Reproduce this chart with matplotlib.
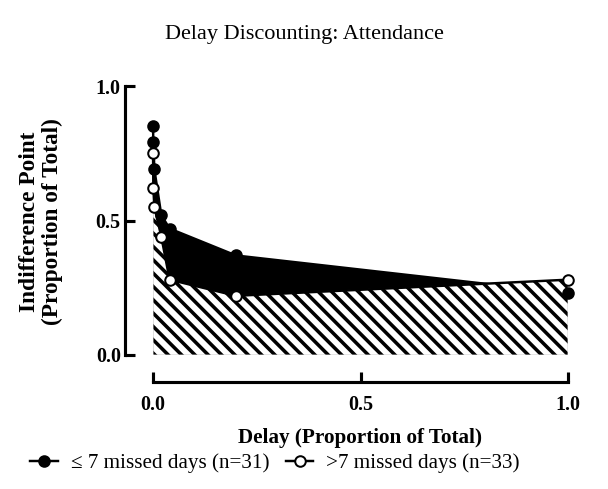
import numpy as np
from matplotlib import pyplot as plt

# delay as a proportion of the longest delay (1 day ... 25 years)
delay = [0.0001, 0.0008, 0.0033, 0.02, 0.04, 0.2, 1.0]
low_missed = [0.85, 0.79, 0.69, 0.52, 0.47, 0.37, 0.23]
high_missed = [0.75, 0.62, 0.55, 0.44, 0.28, 0.22, 0.28]

label_low = "\u2264 7 missed days (n=31)"
label_high = ">7 missed days (n=33)"
tick_labels = ["0.0", "0.5", "1.0"]

plt.rcParams['font.family'] = ['Liberation Serif', 'DejaVu Serif']
plt.rcParams['hatch.linewidth'] = 3.2

DPI = 80
fig = plt.figure(figsize=(608 / DPI, 489 / DPI), dpi=DPI)
ax = fig.add_axes([153 / 608, 134 / 489, 415 / 608, 269 / 489])

# area under each curve
ax.fill_between(delay, low_missed, 0, facecolor='black', edgecolor='none', zorder=1)
ax.plot(delay, low_missed, color='black', lw=2.2, zorder=2, clip_on=False)
ax.fill_between(delay, high_missed, 0, facecolor='white', edgecolor='black',
                hatch='\\\\', linewidth=0, zorder=3)
ax.fill_between(delay, high_missed, 0, facecolor='none', edgecolor='#c8c8c8',
                linewidth=0.8, zorder=3)
ax.plot(delay, high_missed, color='black', lw=2.2, zorder=4, clip_on=False)

ax.plot(delay, low_missed, 'o', color='black', ms=9.5, mec='black', mew=1.8,
        zorder=5, clip_on=False)
ax.plot(delay, high_missed, 'o', color='black', ms=9.5, mfc='white', mec='black',
        mew=1.8, zorder=6, clip_on=False)

ax.set_xlim(0, 1)
ax.set_ylim(0, 1)
ax.set_xticks([0, 0.5, 1.0])
ax.set_yticks([0, 0.5, 1.0])
ax.set_xticklabels(tick_labels)
ax.set_yticklabels(tick_labels)

for s in ['top', 'right']:
    ax.spines[s].set_visible(False)
ax.spines['left'].set_position(('outward', 25))
ax.spines['bottom'].set_position(('outward', 24))
for s in ['left', 'bottom']:
    ax.spines[s].set_linewidth(2.8)
    ax.spines[s].set_bounds(0, 1)
ax.tick_params(direction='in', length=9, width=2.8, pad=4, labelsize=18)
ax.tick_params(axis='x', pad=12)
for lab in ax.get_xticklabels() + ax.get_yticklabels():
    lab.set_fontweight('bold')
ax.patch.set_visible(False)

fig.text(0.5, 1 - 35 / 489, "Delay Discounting: Attendance", ha='center', va='center',
         fontsize=20)
fig.text(360.5 / 608, 1 - 438 / 489, "Delay (Proportion of Total)", ha='center',
         va='center', fontsize=19, fontweight='bold')
fig.text(41 / 608, 1 - 222 / 489, "Indifference Point\n(Proportion of Total)",
         rotation=90, ha='center', va='center', fontsize=21, fontweight='bold',
         linespacing=1.1, multialignment='center')

h1, = ax.plot([], [], 'o-', color='black', ms=9.5, mew=1.8, lw=2.2)
h2, = ax.plot([], [], 'o-', color='black', ms=9.5, mfc='white', mew=1.8, lw=2.2)
fig.legend([h1, h2], [label_low, label_high], loc='center',
           bbox_to_anchor=(275 / 608, 1 - 463 / 489), ncol=2, frameon=False,
           fontsize=19, handlelength=1.3, handletextpad=0.6, columnspacing=0.8)

fig.savefig("out.png", dpi=DPI)
